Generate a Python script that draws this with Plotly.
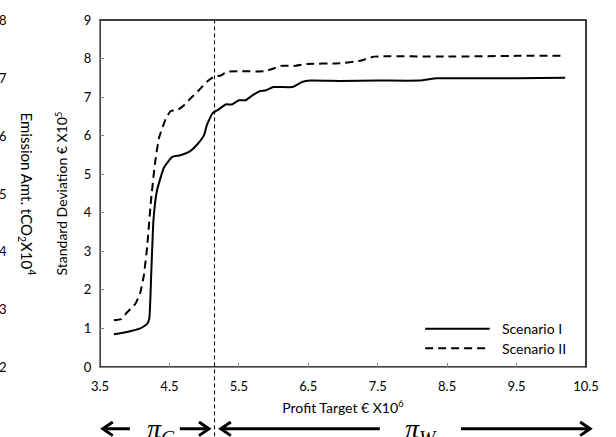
import plotly.graph_objects as go

# ---- data ----
s1_name = "Scenario I"
s1_x = [3.70, 3.89, 4.08, 4.18, 4.21, 4.24, 4.27, 4.32, 4.42, 4.54, 4.66, 4.80, 4.90, 5.00,
        5.04, 5.12, 5.19, 5.31, 5.40, 5.50, 5.60, 5.69, 5.81, 5.88, 6.00, 6.27, 6.41, 6.53,
        6.96, 7.50, 8.10, 8.35, 8.50, 9.50, 10.20]
s1_y = [0.85, 0.91, 1.00, 1.12, 1.25, 2.53, 3.81, 4.57, 5.17, 5.45, 5.49, 5.60, 5.77, 6.02,
        6.28, 6.58, 6.66, 6.81, 6.81, 6.92, 6.92, 7.04, 7.16, 7.17, 7.26, 7.26, 7.39, 7.43,
        7.42, 7.43, 7.43, 7.49, 7.49, 7.49, 7.50]

s2_name = "Scenario II"
s2_x = [3.70, 3.80, 3.89, 4.01, 4.08, 4.13, 4.18, 4.23, 4.29, 4.35, 4.45, 4.52, 4.61, 4.71,
        4.80, 4.92, 5.04, 5.14, 5.24, 5.33, 5.52, 5.86, 5.98, 6.10, 6.29, 6.48, 6.96, 7.24,
        7.45, 8.50, 9.50, 10.20]
s2_y = [1.21, 1.24, 1.42, 1.64, 1.93, 2.36, 3.13, 4.23, 5.26, 5.94, 6.45, 6.64, 6.66, 6.79,
        6.96, 7.17, 7.40, 7.53, 7.56, 7.66, 7.67, 7.67, 7.73, 7.81, 7.81, 7.86, 7.88, 7.94,
        8.05, 8.05, 8.07, 8.07]

x_ticks = [3.5, 4.5, 5.5, 6.5, 7.5, 8.5, 9.5, 10.5]
y_ticks = [0, 1, 2, 3, 4, 5, 6, 7, 8, 9]
emission_ticks = [2, 3, 4, 5, 6, 7, 8]
split_x = 5.15
# region arrows (data units along x): (tail, head)
arrows = [(3.93, 3.54), (4.65, 5.07), (7.53, 5.24), (8.70, 10.56)]
pi_labels = [(4.38, "<i>π</i><sub><i>C</i></sub>"), (8.12, "<i>π</i><sub><i>W</i></sub>")]

X0, X1 = 3.5, 10.5
FONT = "Lato"
PW, PH = 486, 354  # plot-area size in px


def px(v):
    return (v - X0) / (X1 - X0)


fig = go.Figure()
fig.add_trace(go.Scatter(x=s1_x, y=s1_y, mode="lines", name=s1_name,
                         line=dict(color="black", width=2, shape="spline", smoothing=0.4)))
fig.add_trace(go.Scatter(x=s2_x, y=s2_y, mode="lines", name=s2_name,
                         line=dict(color="black", width=2, dash="8px,5px", shape="spline", smoothing=0.4)))

shapes = []
# plot-area border (black) under gray axes
shapes.append(dict(type="rect", xref="paper", yref="paper", x0=0, x1=1, y0=0, y1=1,
                   line=dict(color="black", width=1.5), layer="below"))
# separator line
shapes.append(dict(type="line", xref="paper", yref="paper", x0=px(split_x), x1=px(split_x),
                   y0=-0.2, y1=1, line=dict(color="black", width=1, dash="4px,3px")))
# arrows
ay = -63 / PH
hw = 10 / PW  # head length in paper x
hh = 7 / PH
for tail, head in arrows:
    t, h = px(tail), px(head)
    d = 1 if h > t else -1
    shapes.append(dict(type="line", xref="paper", yref="paper", x0=t, x1=h - d * 1 / PW, y0=ay, y1=ay,
                       line=dict(color="black", width=3)))
    path = f"M {h - d*hw},{ay + hh} L {h},{ay} L {h - d*hw},{ay - hh}"
    shapes.append(dict(type="path", xref="paper", yref="paper", path=path,
                       line=dict(color="black", width=3)))

# manual legend
leg_x0, leg_x1, leg_tx = 0.669, 0.802, 0.823
leg_rows = [(0.110, s1_name, "solid"), (0.054, s2_name, "8px,5px")]
annotations = []
for yy, name, dash in leg_rows:
    shapes.append(dict(type="line", xref="paper", yref="paper", x0=leg_x0, x1=leg_x1, y0=yy, y1=yy,
                       line=dict(color="black", width=2, dash=dash)))
    annotations.append(dict(xref="paper", yref="paper", x=leg_tx, y=yy, text=name, showarrow=False,
                            xanchor="left", yanchor="middle", font=dict(family=FONT, size=14, color="black")))

# cropped emission axis from neighbouring chart
for v in emission_ticks:
    annotations.append(dict(xref="paper", yref="paper", x=-91 / PW, y=(v - 2) / 6, text=str(v),
                            showarrow=False, xanchor="right", yanchor="middle",
                            font=dict(family=FONT, size=13, color="black")))
annotations.append(dict(xref="paper", yref="paper", x=-73 / PW, y=0.5,
                        text="Emission Amt. tCO<sub>2</sub>X10<sup>4</sup>", textangle=90,
                        showarrow=False, xanchor="center", yanchor="middle",
                        font=dict(family=FONT, size=15, color="black")))
# pi labels
for xv, txt in pi_labels:
    annotations.append(dict(xref="paper", yref="paper", x=px(xv), y=-65 / PH, text=txt, showarrow=False,
                            xanchor="center", yanchor="middle",
                            font=dict(family="Liberation Serif", size=28, color="black")))

fig.update_layout(
    width=616, height=437, autosize=False,
    margin=dict(l=100, r=30, t=13, b=70),
    paper_bgcolor="white", plot_bgcolor="white",
    showlegend=False,
    font=dict(family=FONT, size=13, color="black"),
    shapes=shapes, annotations=annotations,
    xaxis=dict(range=[X0, X1], tickvals=x_ticks, ticktext=[f"{t:.1f}" for t in x_ticks],
               showline=True, linecolor="#868686", linewidth=1, ticks="inside", ticklen=4,
               tickcolor="#868686", showgrid=False, zeroline=False, ticklabelstandoff=7,
               title=dict(text="Profit Target € X10<sup>6</sup>", font=dict(size=14), standoff=10)),
    yaxis=dict(range=[0, 9], tickvals=y_ticks, showline=True, linecolor="#868686", linewidth=1,
               ticks="inside", ticklen=4, tickcolor="#868686", showgrid=False, zeroline=False,
               ticklabelstandoff=5,
               title=dict(text="Standard Deviation € X10<sup>5</sup>", font=dict(size=14), standoff=12)),
)

fig.write_html("out.html", config={"displayModeBar": False},
               post_script="document.body.style.margin='0';document.body.style.overflow='hidden';")
